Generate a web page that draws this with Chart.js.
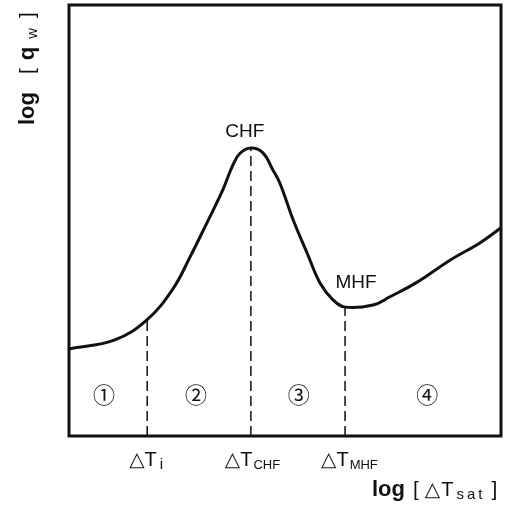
<!DOCTYPE html>
<html>
<head>
<meta charset="utf-8">
<script src="https://cdn.jsdelivr.net/npm/chart.js@4.4.1/dist/chart.umd.min.js"></script>
<style>
  html, body { margin: 0; padding: 0; background: #fff; }
  #wrap { width: 517px; height: 516px; }
</style>
</head>
<body>
<div id="wrap"><canvas id="boil" width="517" height="516"></canvas></div>
<script>
// boiling curve, both axes in arbitrary log units 0..100
const dTsat = [0, 10.6, 18.1, 24.1, 28.0, 31.9, 35.6, 38.0, 39.6, 42.1, 44.9, 47.2, 48.8, 51.9, 55.1, 58.1, 61.1, 63.9, 70.4, 74.3, 80.6, 88.2, 95.1, 100];
const qWall = [20.2, 22.3, 27.0, 34.2, 41.5, 49.4, 57.1, 63.0, 65.6, 66.8, 65.7, 61.7, 58.7, 50.1, 42.5, 35.5, 31.6, 29.9, 30.4, 32.3, 35.7, 40.8, 44.8, 48.3];

// onset of nucleate boiling, CHF and MHF points on the curve
const splitIdx = [2, 9, 17];
const splitSub = ['i', 'CHF', 'MHF'];

const regionNames = ['\u2460', '\u2461', '\u2462', '\u2463'];
const regionX = [8.1, 29.4, 53.2, 82.9];
const regionY = 9.7;

const curvePts = dTsat.map((x, i) => ({ x, y: qWall[i] }));

const dashSets = splitIdx.map(i => ({
  data: [{ x: dTsat[i], y: 0 }, { x: dTsat[i], y: qWall[i] }],
  borderColor: '#111',
  borderWidth: 1.5,
  borderDash: [10, 5],
  pointRadius: 0,
  tension: 0
}));

const SANS = '"Liberation Sans", Arial, sans-serif';
const TRI = '20px "DejaVu Sans", sans-serif';

// draw text runs one after another: {t, f, dy, gap}
function runs(ctx, list, x, y) {
  for (const r of list) {
    ctx.font = r.f;
    ctx.fillText(r.t, x, y + (r.dy || 0));
    x += ctx.measureText(r.t).width + (r.gap || 0);
  }
  return x;
}

function spaced(text, font, dy, gap) {
  return text.split('').map(c => ({ t: c, f: font, dy, gap }));
}

const labelShift = [-18, -26, -24];

const decor = {
  id: 'decor',
  afterDatasetsDraw(chart) {
    const { ctx, chartArea: a, scales: { x, y } } = chart;
    ctx.save();
    ctx.strokeStyle = '#111';
    ctx.lineWidth = 3;
    ctx.strokeRect(a.left, a.top, a.right - a.left, a.bottom - a.top);

    ctx.fillStyle = '#111';
    ctx.textBaseline = 'alphabetic';

    // peak / minimum labels
    ctx.font = '19px ' + SANS;
    ctx.textAlign = 'center';
    const chf = splitIdx[1], mhf = splitIdx[2];
    ctx.fillText('CHF', x.getPixelForValue(dTsat[chf]) - 6, y.getPixelForValue(qWall[chf]) - 11);
    ctx.fillText('MHF', x.getPixelForValue(dTsat[mhf]) + 11, y.getPixelForValue(qWall[mhf]) - 19);

    // region numbers
    ctx.font = '22px "Noto Sans CJK JP", "DejaVu Sans", sans-serif';
    ctx.textBaseline = 'middle';
    regionNames.forEach((t, i) => {
      ctx.fillText(t, x.getPixelForValue(regionX[i]), y.getPixelForValue(regionY));
    });

    // temperature marks under the axis
    ctx.textAlign = 'left';
    ctx.textBaseline = 'alphabetic';
    splitIdx.forEach((idx, k) => {
      const px = x.getPixelForValue(dTsat[idx]) + labelShift[k];
      runs(ctx, [
        { t: '\u25B3', f: TRI, gap: 0 },
        { t: 'T', f: '20px ' + SANS, gap: k === 0 ? 3 : 1 },
        { t: splitSub[k], f: (k === 0 ? '15px ' : '13px ') + SANS, dy: 3 }
      ], px, 466);
    });

    // x axis title
    runs(ctx, [
      { t: 'log', f: 'bold 22px ' + SANS, gap: 8 },
      { t: '[', f: '21px ' + SANS, gap: 6 },
      { t: '\u25B3', f: TRI, gap: 1 },
      { t: 'T', f: '20px ' + SANS, gap: 3 },
      ...spaced('sat', '15px ' + SANS, 3, 3),
      { t: ' ', f: '15px ' + SANS, gap: 2 },
      { t: ']', f: '21px ' + SANS }
    ], 372, 496);

    // y axis title, rotated
    ctx.translate(34, 125);
    ctx.rotate(-Math.PI / 2);
    runs(ctx, [
      { t: 'log', f: 'bold 22px ' + SANS, gap: 18 },
      { t: '[', f: '21px ' + SANS, gap: 8 },
      { t: 'q', f: 'bold 22px ' + SANS, gap: 8 },
      { t: 'w', f: '15px ' + SANS, dy: 3, gap: 10 },
      { t: ']', f: '21px ' + SANS }
    ], 0, 0);
    ctx.restore();
  }
};

new Chart(document.getElementById('boil'), {
  type: 'line',
  data: {
    datasets: [{
      data: curvePts,
      borderColor: '#111',
      borderWidth: 3,
      pointRadius: 0,
      tension: 0.4
    }, ...dashSets]
  },
  options: {
    responsive: false,
    animation: false,
    layout: { padding: { left: 69, top: 5, right: 16, bottom: 80 } },
    scales: {
      x: { type: 'linear', min: 0, max: 100, display: false },
      y: { min: 0, max: 100, display: false }
    },
    plugins: { legend: { display: false }, tooltip: { enabled: false } }
  },
  plugins: [decor]
});
</script>
</body>
</html>
